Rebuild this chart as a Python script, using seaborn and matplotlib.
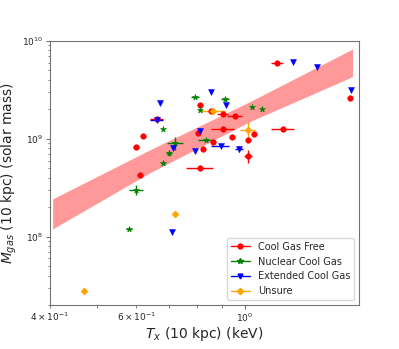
import numpy as np
import pandas as pd
import matplotlib
matplotlib.use("Agg")
import matplotlib.pyplot as plt
from matplotlib.lines import Line2D
import seaborn as sns

# ---- data ----
categories = ["Cool Gas Free", "Nuclear Cool Gas", "Extended Cool Gas", "Unsure"]
colors = ["red", "green", "blue", "orange"]
markers = ["o", "*", "v", "D"]

red_tx = [1.164, 1.641, 0.810, 0.852, 0.901, 0.953, 0.660, 0.901, 1.196, 0.802,
          1.043, 0.620, 0.942, 1.013, 0.862, 0.599, 0.821, 1.013, 0.810, 0.611]
red_m = [6.01e9, 2.60e9, 2.22e9, 1.94e9, 1.81e9, 1.73e9, 1.59e9, 1.26e9, 1.26e9, 1.16e9,
         1.12e9, 1.07e9, 1.04e9, 9.77e8, 9.32e8, 8.34e8, 7.91e8, 6.71e8, 5.03e8, 4.29e8]
red_txerr = [0.033, 0, 0, 0, 0.024, 0.032, 0.019, 0.047, 0.063, 0,
             0, 0, 0, 0, 0, 0.008, 0, 0.019, 0.051, 0]
red_merr = [0, 0, 0, 0, 0, 0, 0, 0, 0, 0,
            0, 0, 0, 0, 0, 0, 0, 1.0e8, 0, 0]

grn_tx = [0.790, 0.910, 0.810, 1.032, 1.083, 0.681, 0.720, 0.831, 0.701, 0.681, 0.600, 0.580]
grn_m = [2.68e9, 2.56e9, 1.98e9, 2.11e9, 2.02e9, 1.27e9, 9.04e8, 9.66e8, 7.15e8, 5.60e8, 3.02e8, 1.21e8]
grn_txerr = [0.015, 0.017, 0, 0, 0, 0, 0.027, 0.028, 0.010, 0.006, 0.020, 0.008]
grn_merr = [0, 1.0e8, 0, 0, 0, 0, 1.3e8, 0, 5.0e7, 0, 3.6e7, 0]

blu_tx = [1.255, 1.405, 1.648, 0.671, 0.851, 0.914, 0.660, 0.810, 0.712, 0.790, 0.892, 0.972, 0.711]
blu_m = [6.06e9, 5.39e9, 3.14e9, 2.31e9, 3.00e9, 2.24e9, 1.57e9, 1.21e9, 8.15e8, 7.54e8, 8.43e8, 7.91e8, 1.11e8]
blu_txerr = [0, 0, 0, 0, 0, 0, 0.019, 0, 0, 0, 0.038, 0.018, 0]
blu_merr = [0, 0, 0, 0, 0, 0, 0, 0, 0, 0, 0, 6.0e7, 0]

ora_tx = [0.860, 1.013, 0.720, 0.469]
ora_m = [1.93e9, 1.22e9, 1.72e8, 2.75e7]
ora_txerr = [0.050, 0.038, 0, 0.007]
ora_merr = [0, 2.5e8, 0, 0]

# fit confidence band (edges)
band_tx = [0.405, 0.640, 1.024, 1.659]
band_lo = [1.20e8, 4.50e8, 1.50e9, 4.32e9]
band_hi = [2.43e8, 7.72e8, 2.40e9, 8.28e9]

# ---- build table ----
groups = [(red_tx, red_m, red_txerr, red_merr),
          (grn_tx, grn_m, grn_txerr, grn_merr),
          (blu_tx, blu_m, blu_txerr, blu_merr),
          (ora_tx, ora_m, ora_txerr, ora_merr)]
frames = []
for cat, (tx, m, te, me) in zip(categories, groups):
    frames.append(pd.DataFrame({"tx": tx, "m": m, "txerr": te, "merr": me, "cat": cat}))
df = pd.concat(frames, ignore_index=True)

sns.set_style("ticks")
plt.rcParams["font.family"] = ["DejaVu Sans"]
plt.rcParams["mathtext.fontset"] = "dejavusans"

fig = plt.figure(figsize=(3.99, 3.49), dpi=100)
ax = fig.add_axes([50 / 399, 1 - 305 / 349, 309 / 399, 264 / 349])
ax.set_xscale("log")
ax.set_yscale("log")

ax.fill_between(band_tx, band_lo, band_hi, color="red", alpha=0.4, linewidth=0, zorder=1)

for cat, col in zip(categories, colors):
    sub = df[df["cat"] == cat]
    ax.errorbar(sub["tx"], sub["m"], xerr=sub["txerr"], yerr=sub["merr"], fmt="none",
                ecolor=col, elinewidth=1.0, capsize=0, zorder=2)

sizes = {"Cool Gas Free": 16, "Nuclear Cool Gas": 20, "Extended Cool Gas": 18, "Unsure": 13}
for cat, col, mk in zip(categories, colors, markers):
    sub = df[df["cat"] == cat]
    sns.scatterplot(data=sub, x="tx", y="m", color=col, marker=mk, s=sizes[cat],
                    edgecolor=col, linewidth=0.4, ax=ax, legend=False, zorder=3)

ax.set_xlim(0.4, 1.71)
ax.set_ylim(2.0e7, 1e10)

ax.set_xlabel(r"$T_x$ (10 kpc) (keV)", fontsize=10)
ax.set_ylabel(r"$M_{gas}$ (10 kpc) (solar mass)", fontsize=10)
ax.xaxis.set_label_coords(0.5, -0.074)
ax.yaxis.set_label_coords(-0.10, 0.5)
ax.tick_params(which="both", labelsize=6.5, pad=2)
ax.tick_params(which="major", length=3, width=0.6, color="0.3")
ax.tick_params(which="minor", length=1.8, width=0.5, color="0.3")
for sp in ax.spines.values():
    sp.set_linewidth(0.8)
    sp.set_color("0.45")
    sp.set_visible(True)

handles = [Line2D([0], [0], color=c, marker=mk, markersize=ms, linewidth=1.0)
           for c, mk, ms in zip(colors, markers, [3.5, 4.0, 3.5, 3.2])]
ax.legend(handles, categories, loc="lower right", fontsize=7, frameon=True,
          framealpha=1.0, edgecolor="0.85", borderaxespad=0.5)

fig.savefig("out.png", dpi=100)
